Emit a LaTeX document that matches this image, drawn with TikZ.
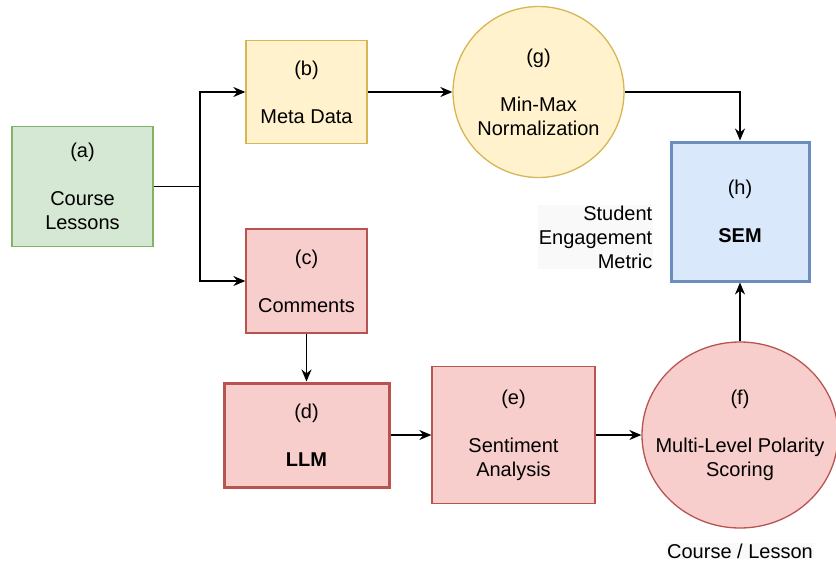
\documentclass[tikz,border=0pt]{standalone}
\usepackage{fontspec}
\setmainfont{Liberation Sans}
\usepackage{tikz}
\usetikzlibrary{arrows.meta, shapes.geometric}
\definecolor{greenfill}{HTML}{D5E8D4}
\definecolor{greenline}{HTML}{82B366}
\definecolor{yellowfill}{HTML}{FFF2CC}
\definecolor{yellowline}{HTML}{D6B656}
\definecolor{redfill}{HTML}{F8CECC}
\definecolor{redline}{HTML}{B85450}
\definecolor{bluefill}{HTML}{DAE8FC}
\definecolor{blueline}{HTML}{6C8EBF}
\definecolor{notebg}{HTML}{F9F9F9}
\tikzset{
  stage/.style = {align=center, inner sep=0pt, text centered,
    font=\fontsize{20}{24}\selectfont, line width=1.3pt},
  greenbox/.style = {stage, rectangle, fill=greenfill, draw=greenline},
  yellowbox/.style = {stage, rectangle, fill=yellowfill, draw=yellowline},
  redbox/.style = {stage, rectangle, fill=redfill, draw=redline},
  bluebox/.style = {stage, rectangle, fill=bluefill, draw=blueline,
    line width=3pt},
  yellowround/.style = {stage, circle, fill=yellowfill, draw=yellowline},
  redround/.style = {stage, ellipse, fill=redfill, draw=redline,
    inner xsep=-18pt},
  note/.style = {align=right, inner sep=1pt, fill=notebg,
    font=\fontsize{20}{24}\selectfont}
}

\begin{document}
\begin{tikzpicture}[x=1pt, y=-1pt, ->, >={Stealth[length=12pt,width=10pt]},
  line width=1.5pt]
\useasboundingbox (0,0) rectangle (836,565);
\node [greenbox, minimum width=141pt, minimum height=120pt] (a) at (82.5,186.5)
  {(a)\\[24pt]Course\\Lessons};
\node [yellowbox, minimum width=121pt, minimum height=103pt] (b) at (306.5,92)
  {(b)\\[24pt]Meta Data};
\node [redbox, minimum width=121pt, minimum height=104pt] (c) at (306.5,281)
  {(c)\\[24pt]Comments};
\node [redbox, minimum width=165pt, minimum height=104pt, line width=3pt] (d)
  at (306.5,435) {(d)\\[24pt]\textbf{LLM}};
\node [redbox, minimum width=163pt, minimum height=137pt] (e) at (513.5,435)
  {(e)\\[24pt]Sentiment\\Analysis};
\node [redround, minimum width=196pt, minimum height=186pt] (f) at (740,435)
  {(f)\\[24pt]Multi-Level Polarity\\Scoring};
\node [yellowround, minimum size=171pt] (g) at (538.5,92)
  {(g)\\[24pt]Min-Max\\Normalization};
\node [bluebox, minimum width=138pt, minimum height=139pt] (h) at (740,211.5)
  {(h)\\[24pt]\textbf{SEM}};
\node [note, anchor=east] (sem) at (654,237) {Student\\Engagement\\Metric};
\node [note] (level) at (740,551) {Course / Lesson};
\coordinate (split) at (200,186.5);

\draw (a.east) -- (split) |- (b);
\draw (split) |- (c);
\draw (b) -- (g);
\draw (g) -| (h);
\draw (c) -- (d);
\draw (d) -- (e);
\draw (e) -- (f);
\draw (f) -- (h);
\end{tikzpicture}
\end{document}
